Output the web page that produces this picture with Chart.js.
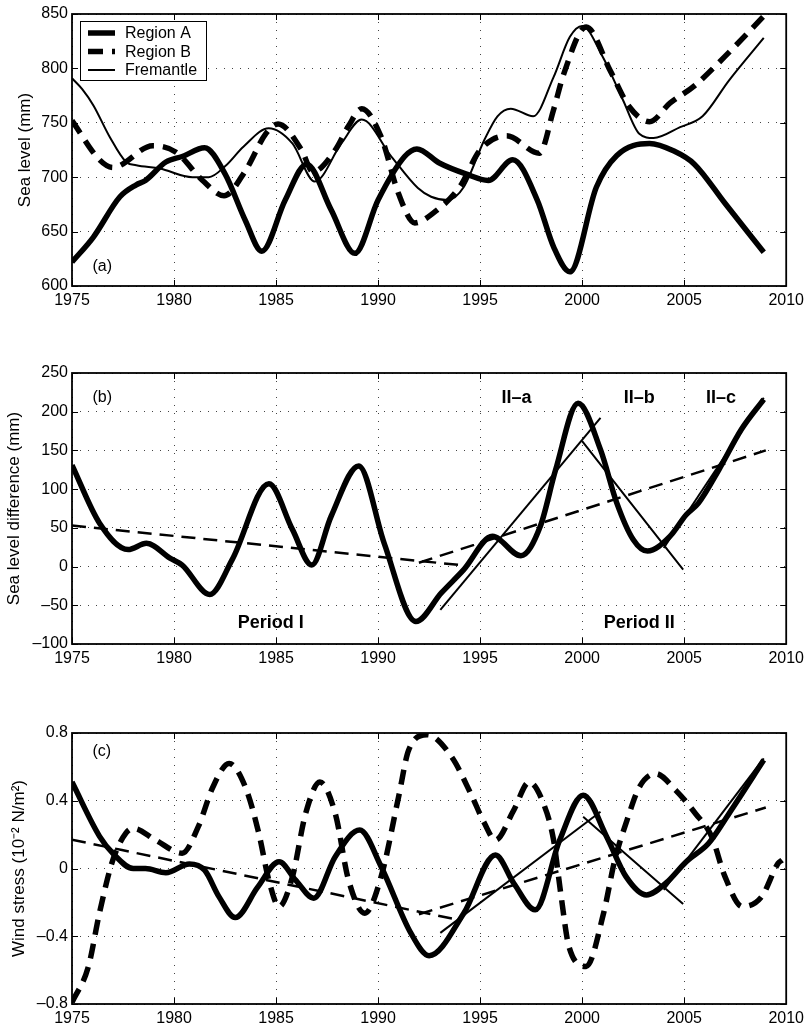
<!DOCTYPE html>
<html>
<head>
<meta charset="utf-8">
<script src="https://cdn.jsdelivr.net/npm/chart.js@4.4.0/dist/chart.umd.min.js"></script>
<style>
  html, body { margin: 0; padding: 0; background: #fff; }
  #wrap { position: relative; width: 809px; height: 1027px; }
  canvas { position: absolute; left: 0; }
</style>
</head>
<body>
<div id="wrap">
  <canvas id="chartA" width="809" height="330" style="top:0px"></canvas>
  <canvas id="chartB" width="809" height="350" style="top:330px"></canvas>
  <canvas id="chartC" width="809" height="347" style="top:680px"></canvas>
</div>
<script>
// ---- (a) sea level ----
const yearsA = [1975, 1976.05, 1977.35, 1978.15, 1978.6, 1979.6, 1980.4, 1981.5, 1982.5, 1983.5, 1984.3, 1985.45, 1986.5, 1987.7, 1988.86, 1990, 1991.3, 1991.9, 1993, 1994.3, 1995.4, 1996.6, 1997.8, 1998.6, 1999.4, 2000.7, 2001.7, 2003.3, 2004.5, 2005.5, 2007, 2008.9];
const regionA = [622, 645, 682, 693, 697, 714, 719, 727, 703, 660, 632, 679, 712, 670, 630, 679, 719, 726, 713, 703, 697, 716, 679, 636, 613, 691, 720, 731, 724, 712, 676, 631];

const yearsB = [1975, 1976.35, 1977.0, 1978.96, 1980.1, 1981.4, 1982.45, 1983.5, 1984.5, 1985.1, 1986.25, 1986.8, 1987.9, 1988.55, 1989.2, 1990.15, 1991, 1991.8, 1992.7, 1994, 1995, 1996.3, 1997.9, 1998.6, 1999.1, 2000.2, 2001.4, 2002.3, 2003.3, 2004.3, 2005.5, 2007, 2008.9];
const regionB = [752, 716, 709, 729, 723, 697, 683, 706, 740, 749, 725, 705, 725, 747, 763, 737, 685, 658, 667, 691, 725, 738, 722, 762, 795, 838, 797, 765, 751, 768, 784, 811, 848];

const yearsF = [1975, 1975.5, 1976.05, 1976.85, 1977.65, 1978.15, 1979.3, 1980.9, 1981.7, 1982.5, 1983.4, 1984.64, 1985.8, 1986.9, 1988.2, 1989.2, 1990.65, 1991.95, 1992.6, 1993.4, 1994.2, 1995.2, 1995.85, 1996.5, 1997.6, 1998.6, 1999.4, 2000.0, 2001.0, 2002.0, 2002.8, 2003.5, 2004.8, 2005.9, 2007.2, 2008.9];
const fremantle = [791, 781, 766, 737, 714, 711, 708, 700, 700, 710, 728, 745, 731, 696, 731, 753, 719, 690, 682, 679, 691, 734, 756, 763, 756, 792, 829, 839, 811, 771, 740, 736, 746, 756, 789, 828];

// ---- (b) sea level difference ----
const yearsD = [1975, 1976.35, 1977.75, 1978.65, 1979.8, 1980.4, 1981.75, 1982.85, 1984.65, 1985.8, 1986.75, 1987.7, 1989.05, 1990.3, 1991.85, 1993.1, 1994.2, 1995.6, 1997.0, 1997.95, 1998.7, 1999.8, 2000.9, 2001.7, 2002.5, 2003.2, 2004.3, 2005.1, 2005.7, 2006.7, 2007.8, 2008.9];
const diffAB = [131, 56, 22, 30, 11, 2, -36, 9, 107, 48, 2, 65, 130, 30, -71, -34, -4, 39, 14, 52, 125, 211, 151, 82, 35, 20, 39, 67, 82, 125, 177, 216];
const diffTrendIx = [1975, 1994], diffTrendI = [53, 2];
const diffTrendIIx = [1992, 2009], diffTrendII = [5, 150];
const diffIIax = [1993.05, 2000.9], diffIIa = [-56, 192];
const diffIIbx = [2000, 2004.95], diffIIb = [162, -4];
const diffIIcx = [2004, 2008.9], diffIIc = [24, 218];

// ---- (c) wind stress ----
const yearsWA = [1975, 1976.35, 1977.0, 1978.0, 1978.6, 1979.6, 1980.75, 1981.5, 1982.2, 1983.0, 1984.1, 1985.15, 1985.95, 1986.85, 1987.9, 1989.1, 1990.15, 1991.6, 1992.5, 1994.2, 1995.75, 1996.65, 1997.7, 1998.9, 2000.05, 2001.2, 2002.15, 2003.15, 2004.1, 2005.1, 2006.2, 2007.2, 2008.9];
const windA = [0.51, 0.19, 0.09, 0.0, 0.0, -0.025, 0.027, -0.01, -0.166, -0.29, -0.11, 0.04, -0.067, -0.175, 0.07, 0.227, 0.011, -0.38, -0.515, -0.264, 0.08, -0.087, -0.244, 0.168, 0.433, 0.188, -0.048, -0.156, -0.087, 0.04, 0.149, 0.325, 0.64];

const yearsWB = [1975, 1975.8, 1976.35, 1977.0, 1977.65, 1978.0, 1979.1, 1980.4, 1981.2, 1981.9, 1982.7, 1983.5, 1984.15, 1984.65, 1985.15, 1985.8, 1986.45, 1987.15, 1987.9, 1988.55, 1989.35, 1990.15, 1991.0, 1991.5, 1992.4, 1993.6, 1994.55, 1995.2, 1995.75, 1996.65, 1997.4, 1998.1, 1998.6, 1998.95, 1999.35, 2000.2, 2001.05, 2001.6, 2002.2, 2002.8, 2003.6, 2004.6, 2005.55, 2006.35, 2007.0, 2007.85, 2008.8, 2009.6, 2009.8];
const windB = [-0.79, -0.58, -0.26, 0.05, 0.21, 0.237, 0.168, 0.09, 0.25, 0.48, 0.62, 0.48, 0.21, -0.07, -0.225, -0.05, 0.325, 0.51, 0.325, -0.067, -0.264, -0.048, 0.42, 0.7, 0.79, 0.66, 0.44, 0.27, 0.168, 0.345, 0.51, 0.385, 0.168, -0.146, -0.46, -0.578, -0.264, 0.05, 0.286, 0.48, 0.56, 0.46, 0.325, 0.188, -0.048, -0.225, -0.166, 0.03, 0.05];
const windTrendIx = [1975, 1994], windTrendI = [0.17, -0.305];
const windTrendIIx = [1992, 2009], windTrendII = [-0.27, 0.36];
const windIIax = [1993.05, 2000.9], windIIa = [-0.38, 0.335];
const windIIbx = [2000.05, 2004.95], windIIb = [0.305, -0.21];
const windIIcx = [2004, 2008.9], windIIc = [-0.126, 0.65];

const xTicks = [1975, 1980, 1985, 1990, 1995, 2000, 2005, 2010];

Chart.defaults.font.family = '"Liberation Sans", Arial, sans-serif';
Chart.defaults.color = '#000';

function pts(xs, ys) {
    return xs.map((x, i) => ({ x: x, y: ys[i] }));
}

// thick / thin line styles
function line(label, xs, ys, width, dash) {
    return {
        label: label,
        data: pts(xs, ys),
        borderColor: '#000',
        borderWidth: width,
        borderDash: dash || [],
        borderCapStyle: 'butt',
        borderJoinStyle: 'round',
        pointRadius: 0,
        fill: false,
        cubicInterpolationMode: 'monotone'
    };
}

function fmtNum(v) {
    let r = Math.round(v * 100) / 100;
    if (Math.abs(r) < 1e-9) return '0';
    let s = String(Math.abs(r));
    return r < 0 ? '\u2013' + s : s;
}

// axes box + inward ticks like matlab
const frameTicks = {
    id: 'frameTicks',
    afterDatasetsDraw(chart) {
        const { ctx, chartArea: a, scales: { x, y } } = chart;
        ctx.save();
        ctx.strokeStyle = '#000';
        ctx.lineWidth = 1;
        ctx.setLineDash([]);
        ctx.beginPath();
        x.ticks.forEach(t => {
            const px = Math.round(x.getPixelForValue(t.value)) + 0.5;
            ctx.moveTo(px, a.bottom); ctx.lineTo(px, a.bottom - 6);
            ctx.moveTo(px, a.top); ctx.lineTo(px, a.top + 6);
        });
        y.ticks.forEach(t => {
            const py = Math.round(y.getPixelForValue(t.value)) + 0.5;
            ctx.moveTo(a.left, py); ctx.lineTo(a.left + 6, py);
            ctx.moveTo(a.right, py); ctx.lineTo(a.right - 6, py);
        });
        ctx.stroke();
        ctx.lineWidth = 1.8;
        ctx.strokeRect(a.left, a.top, a.right - a.left, a.bottom - a.top);
        ctx.restore();
    }
};

// text labels placed in data coordinates
const notes = {
    id: 'notes',
    afterDatasetsDraw(chart, args, opts) {
        const { ctx, scales: { x, y } } = chart;
        ctx.save();
        ctx.fillStyle = '#000';
        ctx.textBaseline = 'middle';
        (opts.items || []).forEach(n => {
            ctx.font = (n.bold ? 'bold ' : '') + n.size + 'px "Liberation Sans", Arial, sans-serif';
            ctx.textAlign = n.align || 'center';
            ctx.fillText(n.text, x.getPixelForValue(n.x), y.getPixelForValue(n.y));
        });
        ctx.restore();
    }
};

// boxed legend in the top-left corner of panel (a)
const boxLegend = {
    id: 'boxLegend',
    afterDatasetsDraw(chart) {
        const { ctx } = chart;
        ctx.save();
        ctx.fillStyle = '#fff';
        ctx.fillRect(80, 21, 126, 59);
        ctx.strokeStyle = '#000';
        ctx.lineWidth = 1;
        ctx.strokeRect(80.5, 21.5, 126, 59);
        chart.data.datasets.forEach((ds, i) => {
            const ly = 33 + i * 18.5;
            ctx.beginPath();
            ctx.lineWidth = ds.borderWidth;
            ctx.setLineDash(ds.borderDash || []);
            ctx.moveTo(88, ly);
            ctx.lineTo(115, ly);
            ctx.stroke();
            ctx.setLineDash([]);
            ctx.fillStyle = '#000';
            ctx.font = '16px "Liberation Sans", Arial, sans-serif';
            ctx.textAlign = 'left';
            ctx.textBaseline = 'middle';
            ctx.fillText(ds.label, 125, ly + 1);
        });
        ctx.restore();
    }
};

function makeChart(id, datasets, cfg) {
    return new Chart(document.getElementById(id), {
        type: 'line',
        data: { datasets: datasets },
        options: {
            responsive: false,
            animation: false,
            layout: { padding: { top: cfg.padTop, right: 18, left: 0, bottom: 0 } },
            scales: {
                x: {
                    type: 'linear',
                    min: 1975, max: 2010,
                    afterBuildTicks: s => { s.ticks = xTicks.map(v => ({ value: v })); },
                    ticks: { padding: 5, font: { size: 16 }, maxRotation: 0, autoSkip: false, callback: v => String(v) },
                    grid: { color: '#444', lineWidth: 1, drawTicks: false },
                    border: { display: false, dash: [1, 7] },
                    afterFit: s => { s.height = cfg.xHeight; }
                },
                y: {
                    min: cfg.yTicks[0], max: cfg.yTicks[cfg.yTicks.length - 1],
                    afterBuildTicks: s => { s.ticks = cfg.yTicks.map(v => ({ value: v })); },
                    ticks: { padding: 4, font: { size: 16 }, callback: v => fmtNum(v) },
                    grid: { color: '#444', lineWidth: 1, drawTicks: false },
                    border: { display: false, dash: [1, 7] },
                    title: { display: true, text: cfg.yTitle, font: { size: 17 }, padding: { top: cfg.titlePad, bottom: 0 } },
                    afterFit: s => { s.width = 72; }
                }
            },
            plugins: {
                legend: { display: false },
                tooltip: { enabled: false },
                notes: { items: cfg.notes }
            }
        },
        plugins: cfg.plugins
    });
}

makeChart('chartA', [
    line('Region A', yearsA, regionA, 5.5),
    line('Region B', yearsB, regionB, 5.5, [15, 9]),
    line('Fremantle', yearsF, fremantle, 2)
], {
    padTop: 14, xHeight: 44, titlePad: 15,
    yTicks: [600, 650, 700, 750, 800, 850],
    yTitle: 'Sea level (mm)',
    notes: [{ text: '(a)', x: 1976.0, y: 617.5, size: 16, align: 'left' }],
    plugins: [notes, frameTicks, boxLegend]
});

makeChart('chartB', [
    line('Difference', yearsD, diffAB, 5.5),
    line('Trend I', diffTrendIx, diffTrendI, 2.5, [14, 8]),
    line('Trend II', diffTrendIIx, diffTrendII, 2.5, [14, 8]),
    line('II-a', diffIIax, diffIIa, 2),
    line('II-b', diffIIbx, diffIIb, 2),
    line('II-c', diffIIcx, diffIIc, 2)
], {
    padTop: 43, xHeight: 36, titlePad: 4,
    yTicks: [-100, -50, 0, 50, 100, 150, 200, 250],
    yTitle: 'Sea level difference (mm)',
    notes: [
        { text: '(b)', x: 1976.0, y: 217.7, size: 16, align: 'left' },
        { text: 'Period I', x: 1984.74, y: -72.5, size: 18, bold: true },
        { text: 'Period II', x: 2002.8, y: -72.5, size: 18, bold: true },
        { text: 'II\u2013a', x: 1996.78, y: 217.7, size: 18, bold: true },
        { text: 'II\u2013b', x: 2002.8, y: 217.7, size: 18, bold: true },
        { text: 'II\u2013c', x: 2006.8, y: 217.7, size: 18, bold: true }
    ],
    plugins: [notes, frameTicks]
});

makeChart('chartC', [
    line('Region A', yearsWA, windA, 5.5),
    line('Region B', yearsWB, windB, 5.5, [15, 9]),
    line('Trend I', windTrendIx, windTrendI, 2.5, [14, 8]),
    line('Trend II', windTrendIIx, windTrendII, 2.5, [14, 8]),
    line('II-a', windIIax, windIIa, 2),
    line('II-b', windIIbx, windIIb, 2),
    line('II-c', windIIcx, windIIc, 2)
], {
    padTop: 53, xHeight: 23, titlePad: 9,
    yTicks: [-0.8, -0.4, 0, 0.4, 0.8],
    yTitle: 'Wind stress (10\u207B\u00B2 N/m\u00B2)',
    notes: [{ text: '(c)', x: 1976.0, y: 0.692, size: 16, align: 'left' }],
    plugins: [notes, frameTicks]
});
</script>
</body>
</html>
